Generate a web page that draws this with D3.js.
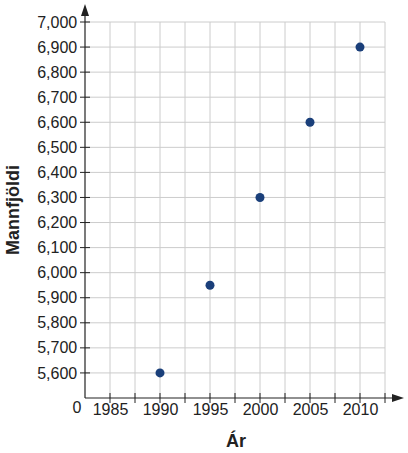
<!DOCTYPE html>
<html><head><meta charset="utf-8">
<script src="https://cdn.jsdelivr.net/npm/d3@7"></script>
<style>body{margin:0;background:#fff}</style>
</head><body><div id="chart"></div>
<script>
const years = [1990, 1995, 2000, 2005, 2010];
const population = [5600, 5950, 6300, 6600, 6900];
const xTicks = [1985, 1990, 1995, 2000, 2005, 2010];
const yTicks = d3.range(5600, 7001, 100);

const W = 408, H = 453;
const svg = d3.select("#chart").append("svg").attr("width", W).attr("height", H);
const x = d3.scaleLinear().domain([1982.5, 2012.5]).range([85, 385]);
const y = d3.scaleLinear().domain([5500, 7000]).range([398, 22]);
const font = "Liberation Sans, Arial, sans-serif";

const grid = svg.append("g").attr("stroke", "#ccc").attr("stroke-width", 1);
d3.range(1985, 2012.6, 2.5).forEach(v => grid.append("line")
  .attr("x1", x(v)).attr("x2", x(v)).attr("y1", y(7000)).attr("y2", y(5500)));
yTicks.forEach(v => grid.append("line")
  .attr("x1", x(1982.5)).attr("x2", x(2012.5)).attr("y1", y(v)).attr("y2", y(v)));

const xAxis = svg.append("g").attr("transform", `translate(0,${y(5500)})`)
  .call(d3.axisBottom(x).tickValues(d3.range(1985, 2012.6, 2.5)).tickSize(0)
    .tickFormat(d => xTicks.includes(d) ? d : ""));
xAxis.select(".domain").remove();
xAxis.selectAll("text").attr("font-family", font).attr("font-size", 16).attr("fill", "#222").attr("dy", "0.85em");
const yAxis = svg.append("g").attr("transform", `translate(${x(1982.5)},0)`)
  .call(d3.axisLeft(y).tickValues(yTicks).tickSize(0).tickFormat(d3.format(",")));
yAxis.select(".domain").remove();
yAxis.selectAll("text").attr("font-family", font).attr("font-size", 16).attr("fill", "#222").attr("dx", "-0.3em");

// ticks
const tk = svg.append("g").attr("stroke", "#222");
d3.range(1985, 2012.6, 2.5).forEach(v => tk.append("line")
  .attr("x1", x(v)).attr("x2", x(v)).attr("y1", y(5500) - 5).attr("y2", y(5500) + 5));
yTicks.forEach(v => tk.append("line")
  .attr("x1", x(1982.5) - 5).attr("x2", x(1982.5) + 5).attr("y1", y(v)).attr("y2", y(v)));

// axes with arrows
svg.append("line").attr("x1", x(1982.5)).attr("x2", 396).attr("y1", y(5500)).attr("y2", y(5500)).attr("stroke", "#222").attr("stroke-width", 1.2);
svg.append("path").attr("d", `M404,${y(5500)} l-12,-4 l0,8 z`).attr("fill", "#222");
svg.append("line").attr("x1", x(1982.5)).attr("x2", x(1982.5)).attr("y1", y(5500)).attr("y2", 12).attr("stroke", "#222").attr("stroke-width", 1.2);
svg.append("path").attr("d", `M${x(1982.5)},4 l-4,12 l8,0 z`).attr("fill", "#222");

svg.append("text").attr("x", 77).attr("y", 413).attr("text-anchor", "middle")
  .attr("font-family", font).attr("font-size", 16).attr("fill", "#222").text("0");

svg.append("g").selectAll("circle").data(years).join("circle")
  .attr("cx", d => x(d)).attr("cy", (d, i) => y(population[i])).attr("r", 4.5).attr("fill", "#1a3f7a");

svg.append("text").attr("x", 236).attr("y", 447).attr("text-anchor", "middle")
  .attr("font-family", font).attr("font-size", 18).attr("font-weight", "bold").attr("fill", "#222").text("Ár");
svg.append("text").attr("transform", "translate(19,210) rotate(-90)").attr("text-anchor", "middle")
  .attr("font-family", font).attr("font-size", 18).attr("font-weight", "bold").attr("fill", "#222").text("Mannfjöldi");
</script></body></html>
